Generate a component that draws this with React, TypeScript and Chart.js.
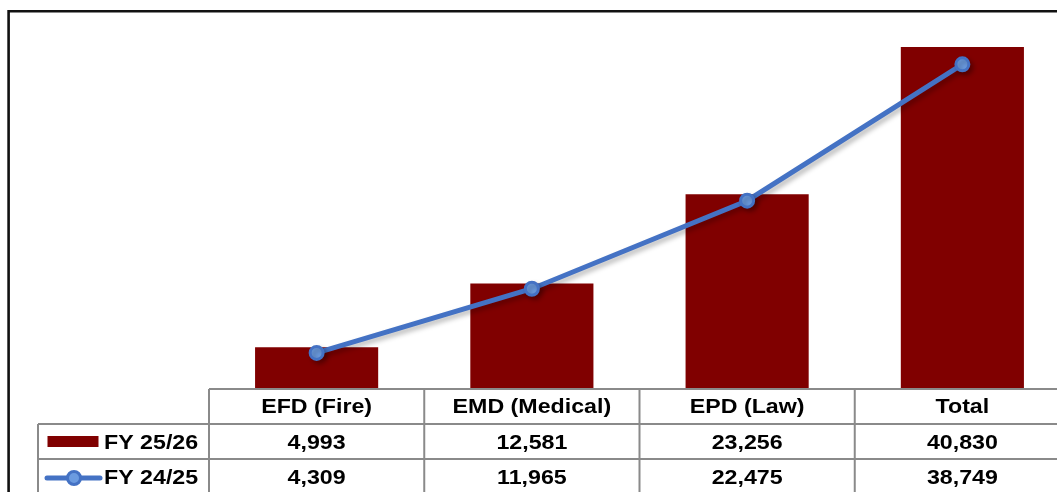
import React, { useEffect, useRef } from "react";
import { Chart, registerables } from "chart.js";

Chart.register(...registerables);

const categories = ["EFD (Fire)", "EMD (Medical)", "EPD (Law)", "Total"];
const fy2526 = [4993, 12581, 23256, 40830];
const fy2425 = [4309, 11965, 22475, 38749];
const seriesLabels = ["FY 25/26", "FY 24/25"];

const BAR_COLOR = "#800000";
const LINE_COLOR = "#4472C4";
const GRID_COLOR = "#8a8a8a";
const FONT = 'bold 20px "Liberation Sans", Arial, sans-serif';
const SX = 1.16;

function drawText(ctx: CanvasRenderingContext2D, text: string, x: number, y: number, align: CanvasTextAlign) {
  ctx.save();
  ctx.translate(x, y);
  ctx.scale(SX, 1);
  ctx.font = FONT;
  ctx.fillStyle = "#000";
  ctx.textAlign = align;
  ctx.textBaseline = "alphabetic";
  ctx.fillText(text, 0, 0);
  ctx.restore();
}

const shadowPlugin = {
  id: "lineShadow",
  beforeDatasetDraw(chart: any, args: any) {
    if (args.meta.type === "line") {
      const ctx = chart.ctx;
      ctx.save();
      ctx.shadowColor = "rgba(0,0,0,0.28)";
      ctx.shadowBlur = 5;
      ctx.shadowOffsetX = 3;
      ctx.shadowOffsetY = 3;
    }
  },
  afterDatasetDraw(chart: any, args: any) {
    if (args.meta.type === "line") chart.ctx.restore();
  },
};

const tablePlugin = {
  id: "dataTable",
  afterDraw(chart: any) {
    const ctx: CanvasRenderingContext2D = chart.ctx;
    const area = chart.chartArea;
    const n = categories.length;
    const colW = (area.right - area.left) / n;
    const top = area.bottom;
    const rowH = 35;
    const r1 = top + rowH;
    const r2 = r1 + rowH;
    const r3 = r2 + rowH;
    const legendLeft = 38;
    const far = chart.width + 10;
    const bottom = chart.height + 10;

    ctx.save();
    ctx.strokeStyle = GRID_COLOR;
    ctx.lineWidth = 2;
    ctx.beginPath();
    ctx.moveTo(area.left, top);
    ctx.lineTo(far, top);
    [r1, r2, r3].forEach((y) => {
      ctx.moveTo(legendLeft, y);
      ctx.lineTo(far, y);
    });
    ctx.moveTo(legendLeft, r1);
    ctx.lineTo(legendLeft, bottom);
    for (let i = 0; i <= n; i++) {
      const x = area.left + i * colW;
      ctx.moveTo(x, top);
      ctx.lineTo(x, bottom);
    }
    ctx.stroke();
    ctx.restore();

    // header + values
    for (let i = 0; i < n; i++) {
      const cx = area.left + (i + 0.5) * colW;
      drawText(ctx, categories[i], cx, top + 24, "center");
      drawText(ctx, fy2526[i].toLocaleString("en-US"), cx, r1 + 25, "center");
      drawText(ctx, fy2425[i].toLocaleString("en-US"), cx, r2 + 25, "center");
    }

    // legend keys
    ctx.save();
    ctx.fillStyle = BAR_COLOR;
    ctx.fillRect(47.5, r1 + 12, 51, 11);
    ctx.strokeStyle = LINE_COLOR;
    ctx.lineWidth = 5;
    ctx.lineCap = "round";
    ctx.beginPath();
    ctx.moveTo(47, r2 + 19);
    ctx.lineTo(100, r2 + 19);
    ctx.stroke();
    ctx.beginPath();
    ctx.arc(74, r2 + 19, 6.5, 0, Math.PI * 2);
    ctx.fillStyle = "#6b9be0";
    ctx.fill();
    ctx.lineWidth = 3;
    ctx.stroke();
    ctx.restore();
    drawText(ctx, seriesLabels[0], 104, r1 + 25, "left");
    drawText(ctx, seriesLabels[1], 104, r2 + 25, "left");

    // outer frame
    ctx.save();
    ctx.strokeStyle = "#111";
    ctx.lineWidth = 2.6;
    ctx.beginPath();
    ctx.moveTo(8.6, bottom);
    ctx.lineTo(8.6, 11.3);
    ctx.lineTo(far, 11.3);
    ctx.stroke();
    ctx.restore();
  },
};

export default function App() {
  const ref = useRef<HTMLCanvasElement | null>(null);

  useEffect(() => {
    if (!ref.current) return;
    const chart = new Chart(ref.current, {
      type: "bar",
      data: {
        labels: categories,
        datasets: [
          {
            type: "line",
            label: seriesLabels[1],
            data: fy2425,
            borderColor: LINE_COLOR,
            borderWidth: 5,
            tension: 0,
            pointRadius: 6.5,
            pointBorderWidth: 3,
            pointBackgroundColor: "#6b9be0",
            pointBorderColor: LINE_COLOR,
            order: 1,
          } as any,
          {
            type: "bar",
            label: seriesLabels[0],
            data: fy2526,
            backgroundColor: BAR_COLOR,
            borderWidth: 0,
            barPercentage: 0.572,
            categoryPercentage: 1,
            order: 2,
          },
        ],
      },
      options: {
        responsive: false,
        animation: false,
        layout: { padding: { left: 209, right: 30, top: 12, bottom: 131 } },
        plugins: { legend: { display: false }, tooltip: { enabled: false }, title: { display: false } },
        scales: {
          x: { display: false, offset: true, grid: { display: false } },
          y: { display: false, min: 0, max: 45000 },
        },
      },
      plugins: [shadowPlugin, tablePlugin],
    });
    return () => chart.destroy();
  }, []);

  return (
    <div style={{ position: "fixed", left: 0, top: 0, width: 1057, height: 492, overflow: "hidden", background: "#fff" }}>
      <canvas ref={ref} width={1100} height={520} style={{ display: "block", width: 1100, height: 520 }} />
    </div>
  );
}
